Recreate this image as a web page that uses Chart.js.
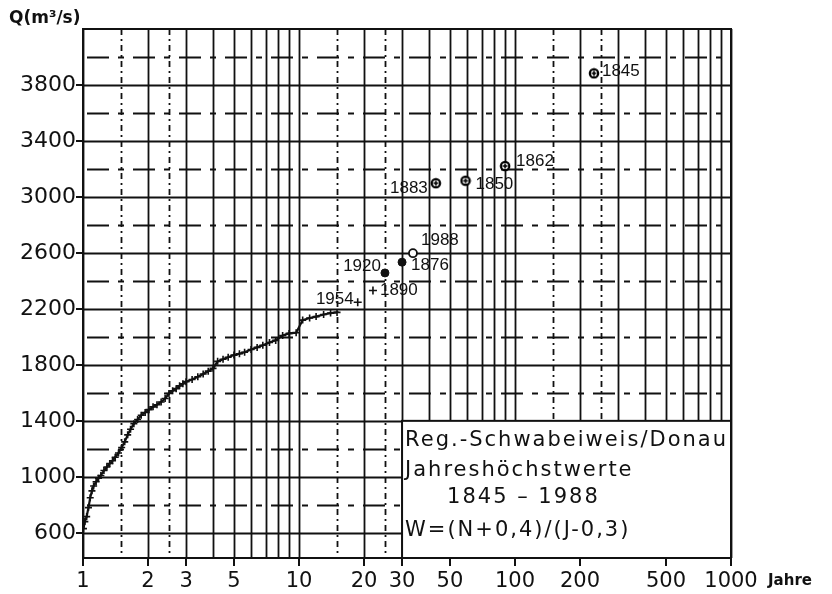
<!DOCTYPE html>
<html>
<head>
<meta charset="utf-8">
<script src="https://cdn.jsdelivr.net/npm/chart.js@4.4.1/dist/chart.umd.min.js"></script>
<style>
  html, body { margin: 0; padding: 0; background: #fff; }
  #c { display: block; }
</style>
</head>
<body>
<canvas id="c" width="832" height="594"></canvas>
<script>
// Annual flood peaks, Regensburg-Schwabelweis / Danube, 1845-1988
// Return period (Jahre) of the ranked annual maxima and discharge Q (m³/s)
const curveT = [1.005,1.02,1.04,1.06,1.08,1.10,1.12,1.15,1.18,1.21,1.25,1.29,1.33,1.37,1.41,1.46,1.51,1.56,1.61,1.66,
                1.72,1.79,1.86,1.94,2.02,2.11,2.2,2.3,2.4,2.5,2.6,2.7,2.8,2.9,3.0,3.2,3.4,3.6,3.8,4.0,
                4.2,4.45,4.7,5.0,5.3,5.6,6.0,6.4,6.8,7.3,7.8,8.4,9.0,9.7,10.4,11.2,12.0,13.0,14.0,15.0];
const curveQ = [630,680,716,780,850,900,935,965,990,1010,1045,1070,1095,1115,1140,1170,1210,1250,1300,1340,
                1380,1410,1440,1460,1480,1500,1515,1535,1560,1595,1615,1630,1650,1665,1680,1695,1715,1735,1755,1775,
                1825,1840,1855,1870,1880,1890,1910,1925,1940,1960,1975,2010,2025,2030,2120,2135,2145,2160,2170,2175];

// Largest floods, labelled with their year
const namedYears = ['1845','1862','1850','1883','1988','1876','1920','1890','1954'];
const namedT     = [232, 90, 59, 43, 33.7, 30, 25, 22, 18.7];
const namedQ     = [3883, 3221, 3116, 3098, 2598, 2534, 2457, 2331, 2248];
const namedMark  = ['ring','ring','ring','ring','open','dot','dot','plus','plus'];

// Axis ticks and grid
const xTickValues = [1,2,3,5,10,20,30,50,100,200,500,1000];
const yTickValues = [600,1000,1400,1800,2200,2600,3000,3400,3800];
const xGridSolid  = [1,2,3,4,5,6,7,8,9,10,20,30,40,50,60,70,80,90,100,200,300,400,500,600,700,800,900,1000];
const xGridDotted = [1.5,2.5,15,25,150,250];
const yGridSolid  = [600,1000,1400,1800,2200,2600,3000,3400,3800];
const yGridDashed = [800,1200,1600,2000,2400,2800,3200,3600,4000];

const legendLines = ['Reg.-Schwabeiweis/Donau','Jahreshöchstwerte','1845 – 1988','W=(N+0,4)/(J-0,3)'];

// label placement relative to the marker: [dx, dy, align]
const labelPlace = {
  '1845': [8, -2, 'left'],
  '1862': [11, -5, 'left'],
  '1850': [10, 4, 'left'],
  '1883': [-8, 5, 'right'],
  '1988': [8, -13, 'left'],
  '1876': [9, 3, 'left'],
  '1920': [-4, -7, 'right'],
  '1890': [7, 0, 'left'],
  '1954': [-4, -3, 'right']
};

// circled-cross marker
function ringMarker() {
  const c = document.createElement('canvas');
  c.width = 12; c.height = 12;
  const g = c.getContext('2d');
  g.fillStyle = '#fff';
  g.strokeStyle = '#000';
  g.lineWidth = 2.2;
  g.beginPath(); g.arc(6, 6, 4.2, 0, Math.PI * 2); g.fill(); g.stroke();
  g.lineWidth = 1.6;
  g.beginPath(); g.moveTo(3.5, 6); g.lineTo(8.5, 6); g.moveTo(6, 3.5); g.lineTo(6, 8.5); g.stroke();
  return c;
}

function pick(kind) {
  const out = [];
  namedYears.forEach((y, i) => { if (namedMark[i] === kind) out.push({ x: namedT[i], y: namedQ[i] }); });
  return out;
}

const black = '#111';

const paperPlugin = {
  id: 'paper',
  beforeDatasetsDraw(chart) {
    const { ctx, chartArea: a, scales: { x, y } } = chart;
    ctx.save();
    ctx.strokeStyle = black;
    ctx.lineCap = 'butt';
    // horizontal grid
    ctx.lineWidth = 1.8;
    yGridSolid.forEach(v => {
      const py = Math.round(y.getPixelForValue(v)) + 0.5;
      ctx.beginPath(); ctx.moveTo(a.left, py); ctx.lineTo(a.right, py); ctx.stroke();
    });
    ctx.setLineDash([22, 9, 6, 9]);
    yGridDashed.forEach(v => {
      const py = Math.round(y.getPixelForValue(v)) + 0.5;
      ctx.beginPath(); ctx.moveTo(a.left + 4, py); ctx.lineTo(a.right, py); ctx.stroke();
    });
    // vertical grid
    ctx.setLineDash([]);
    xGridSolid.forEach(v => {
      const px = Math.round(x.getPixelForValue(v)) + 0.5;
      ctx.beginPath(); ctx.moveTo(px, a.top); ctx.lineTo(px, a.bottom); ctx.stroke();
    });
    ctx.setLineDash([6, 4, 2, 4]);
    xGridDotted.forEach(v => {
      const px = Math.round(x.getPixelForValue(v)) + 0.5;
      ctx.beginPath(); ctx.moveTo(px, a.top); ctx.lineTo(px, a.bottom); ctx.stroke();
    });
    ctx.setLineDash([]);
    ctx.lineWidth = 2;
    ctx.strokeRect(a.left, a.top, a.right - a.left, a.bottom - a.top);

    // legend panel
    const bx = x.getPixelForValue(30), by = y.getPixelForValue(1400);
    ctx.fillStyle = '#fff';
    ctx.fillRect(bx, by, a.right - bx, a.bottom - by);
    ctx.strokeRect(bx, by, a.right - bx, a.bottom - by);
    ctx.fillStyle = black;
    ctx.font = '21px "DejaVu Sans"';
    ctx.letterSpacing = '2px';
    ctx.textBaseline = 'middle';
    ctx.textAlign = 'left';
    const rows = [20, 50, 77, 110];
    const indent = [3, 3, 45, 3];
    legendLines.forEach((t, i) => ctx.fillText(t, bx + indent[i], by + rows[i]));
    ctx.letterSpacing = '0px';
    ctx.restore();
  },
  afterDatasetsDraw(chart) {
    const { ctx, scales: { x, y } } = chart;
    ctx.save();
    ctx.fillStyle = black;
    ctx.font = '17px "Liberation Sans"';
    ctx.textBaseline = 'middle';
    namedYears.forEach((yr, i) => {
      const px = x.getPixelForValue(namedT[i]);
      const py = y.getPixelForValue(namedQ[i]);
      const p = labelPlace[yr];
      ctx.textAlign = p[2];
      ctx.fillText(yr, px + p[0], py + p[1]);
    });
    // axis titles
    ctx.textAlign = 'left';
    ctx.font = 'bold 17px "DejaVu Sans"';
    ctx.fillText('Q(m³/s)', 9, 19);
    ctx.font = 'bold 15px "DejaVu Sans"';
    ctx.fillText('Jahre', 768, 581);
    ctx.restore();
  }
};

new Chart(document.getElementById('c'), {
  type: 'scatter',
  data: {
    datasets: [
      {
        data: curveT.map((t, i) => ({ x: t, y: curveQ[i] })),
        showLine: true,
        borderColor: black,
        borderWidth: 2.2,
        pointStyle: 'cross',
        pointRadius: 3.5,
        pointBorderWidth: 1.6,
        pointBorderColor: black
      },
      { data: pick('ring'), pointStyle: ringMarker(), pointRadius: 5 },
      { data: pick('open'), pointStyle: 'circle', pointRadius: 4, pointBorderWidth: 1.8,
        pointBorderColor: black, pointBackgroundColor: '#fff' },
      { data: pick('dot'), pointStyle: 'circle', pointRadius: 4, pointBorderWidth: 1,
        pointBorderColor: black, pointBackgroundColor: black },
      { data: pick('plus'), pointStyle: 'cross', pointRadius: 4, pointBorderWidth: 1.6,
        pointBorderColor: black }
    ]
  },
  options: {
    responsive: false,
    animation: false,
    devicePixelRatio: 1,
    layout: { padding: { left: 0, top: 29, right: 101, bottom: 0 } },
    plugins: { legend: { display: false }, tooltip: { enabled: false } },
    scales: {
      x: {
        type: 'logarithmic',
        min: 1, max: 1000,
        position: 'bottom',
        border: { display: false },
        grid: { drawOnChartArea: false, drawTicks: true, tickLength: 8, color: black, lineWidth: 2 },
        ticks: {
          autoSkip: false, maxRotation: 0, minRotation: 0, padding: 3,
          color: black, font: { family: 'DejaVu Sans', size: 21 },
          callback: v => String(v)
        },
        afterBuildTicks: s => { s.ticks = xTickValues.map(v => ({ value: v })); },
        afterFit: s => { s.height = 36; }
      },
      y: {
        type: 'linear',
        min: 420, max: 4200,
        border: { display: false },
        grid: { drawOnChartArea: false, drawTicks: true, tickLength: 7, color: black, lineWidth: 2 },
        ticks: {
          padding: 0, color: black, font: { family: 'DejaVu Sans', size: 22 },
          callback: v => String(v)
        },
        afterBuildTicks: s => { s.ticks = yTickValues.map(v => ({ value: v })); },
        afterFit: s => { s.width = 83; }
      }
    }
  },
  plugins: [paperPlugin]
});
</script>
</body>
</html>
